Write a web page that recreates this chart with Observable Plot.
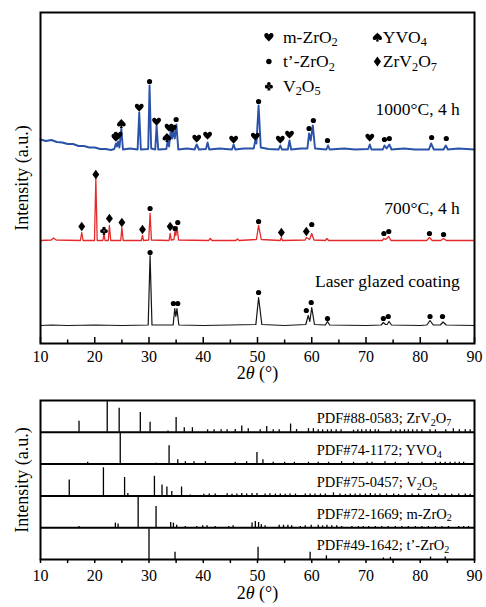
<!DOCTYPE html>
<html><head><meta charset="utf-8">
<script src="https://cdn.jsdelivr.net/npm/d3@7"></script>
<script src="https://cdn.jsdelivr.net/npm/@observablehq/plot@0.6"></script>
<style>
body{margin:0;background:#fff;}
#chart{width:486px;height:607px;overflow:hidden;}
#chart svg{display:block;}
</style></head><body><div id="chart"></div>
<script>
// ---------- DATA: top panel (2θ in degrees, intensity in a.u.) ----------
const glazedTrace = [[10,18],[12,18.5],[15,18],[20,18.5],[25,18],[29.85,18.5],[30.2,88],[30.55,18.5],[34.45,18.5],[34.75,35],[34.95,27],[35.15,35],[35.5,18.5],[40,18],[45,18.5],[49.7,19],[50.2,46],[50.8,19],[55,18],[58.9,19],[59.35,28],[59.65,22],[60.0,36],[60.5,19],[62.5,18.5],[62.9,22],[63.3,18.5],[70,18],[72.8,18.5],[73.2,21],[73.6,19],[73.9,19],[74.25,22],[74.7,18.5],[80,18],[81.2,18.5],[81.8,23],[82.4,18.5],[83.7,18.5],[84.2,21.5],[84.8,18.5],[90,18]];
const t700Trace = [[10,103],[12.0,103.5],[12.4,105.5],[12.9,103.5],[17.35,103],[17.6,111],[17.85,103],[19.95,103],[20.2,165],[20.45,103],[21.5,103],[21.7,110],[21.9,103],[22.5,103],[22.7,118],[22.95,103],[24.8,103],[25.0,116],[25.25,103],[28.6,103],[28.8,108],[29.0,103],[29.95,103.5],[30.2,130],[30.45,103.5],[33.7,103],[33.9,110],[34.1,103.5],[34.6,104],[34.8,113],[34.95,108],[35.15,117],[35.45,103.5],[41.0,103],[41.3,105],[41.6,103],[46.0,103],[46.3,104.5],[46.6,103],[49.8,104],[50.2,118],[50.7,104],[54.2,103],[54.4,106],[54.6,103],[58.8,103.5],[59.0,106],[59.3,105],[59.6,104],[60.0,110],[60.4,103.5],[62.5,103],[62.8,105],[63.1,103],[73.0,103],[73.3,105],[73.6,104],[74.2,107],[74.6,103],[81.2,103],[81.7,106],[82.2,103],[83.8,103],[84.3,105],[84.8,103],[90,103]];
const t1000Trace = [[10,204],[11,202.5],[12,203.5],[13,201.5],[14,201],[15,199.5],[16,199.5],[17,197.5],[18,197.5],[19,196],[20,196],[21,194.5],[22,194.5],[23,193.5],[23.6,194.5],[23.9,200],[24.1,197],[24.3,202],[24.55,196],[24.9,215],[25.2,194],[26.5,195],[27.9,194],[28.2,231],[28.5,194],[29.85,194.5],[30.1,258],[30.4,195],[31.15,194],[31.4,218],[31.7,194],[33.2,194.5],[33.45,203],[33.7,197],[34.0,213],[34.25,205],[34.5,212],[34.75,205],[35.05,219],[35.4,194],[37,195],[38.4,194],[38.8,199],[39.2,194],[40.5,194.5],[40.8,201],[41.1,194],[43,195],[45.3,194],[45.6,199],[45.9,194],[47.5,195],[49.3,195],[49.6,203],[49.8,200],[50.2,238],[50.6,196],[52,194.5],[53.9,194],[54.2,198],[54.5,194],[55.6,194],[55.9,203],[56.2,194],[58,195],[59.2,195],[59.5,210],[59.8,203],[60.2,218],[60.6,195],[62.7,194],[63.0,198],[63.3,194],[66,195],[68,194],[70.4,194.5],[70.7,199],[71.0,194],[73.1,194],[73.4,198],[73.8,195],[74.3,199],[74.7,194],[77,195],[79,194],[81.6,194],[82.0,200],[82.5,194],[84.3,194],[84.7,198],[85.1,194],[87,195],[90,194]];

// phase markers: [2θ, height, phase]  m=m-ZrO2, t=t'-ZrO2, c=V2O5, y=YVO4, d=ZrV2O7
const glazedMarks = [[30.2,91,"t"],[34.5,40,"t"],[35.3,40,"t"],[50.2,51,"t"],[59.0,33,"t"],[59.9,41,"t"],[62.9,25,"t"],[73.2,25,"t"],[74.1,27,"t"],[81.8,27,"t"],[84.1,27,"t"]];
const t700Marks = [[17.6,117,"d"],[20.2,169,"d"],[21.7,113,"c"],[22.7,125,"d"],[25.0,121,"d"],[28.8,114,"d"],[30.2,135,"t"],[33.9,117,"d"],[34.8,115,"t"],[35.3,121,"t"],[50.2,122,"t"],[54.4,111,"d"],[59.0,112,"d"],[60.0,119,"t"],[73.3,110,"t"],[74.2,112,"t"],[81.7,110,"t"],[84.3,109,"t"]];
const t1000Marks = [[23.9,206,"m"],[24.3,208,"m"],[24.9,220,"y"],[28.2,236,"m"],[30.1,262,"t"],[31.4,222,"m"],[33.3,206,"y"],[33.7,216,"m"],[34.3,215,"m"],[35.0,224,"t"],[38.8,205,"m"],[40.8,208,"m"],[45.6,204,"m"],[49.6,207,"m"],[50.2,242,"t"],[54.2,204,"m"],[55.9,209,"m"],[59.5,215,"t"],[60.3,223,"t"],[62.9,203,"t"],[70.7,206,"m"],[73.4,204,"t"],[74.3,205,"t"],[82.1,206,"t"],[84.8,205,"t"]];

const sampleLabels = ["1000°C, 4 h","700°C, 4 h","Laser glazed coating"];
const legendPhases = ["m","t","c","y","d"];
const legendLabels = ["m-ZrO_2","t’-ZrO_2","V_2O_5","YVO_4","ZrV_2O_7"];
const xTicks = [10,20,30,40,50,60,70,80,90];
const xMinor = [15,25,35,45,55,65,75,85];

// ---------- DATA: bottom panel (reference patterns, relative intensity) ----------
const patternKeys = ["ZrV2O7","YVO4","V2O5","m-ZrO2","t-ZrO2"];
const patternLabels = ["PDF#88-0583; ZrV_2O_7","PDF#74-1172; YVO_4","PDF#75-0457; V_2O_5","PDF#72-1669; m-ZrO_2","PDF#49-1642; t’-ZrO_2"];
const zrv2o7Pos = [17.1,22.3,24.5,28.4,30.2,33.5,35.0,36.5,38.0,40.8,42.0,43.3,44.4,45.9,47.1,48.3,50.5,51.7,52.9,54.0,56.1,57.2,59.4,60.3,61.2,62.0,62.9,63.6,64.5,65.4,67.7,68.5,69.2,70.0,70.8,71.7,72.3,74.6,75.5,76.3,77.1,77.8,78.6,79.4,80.3,81.8,82.8,84.7,86.1,87.2,88.3,89.2];
const zrv2o7Int = [36,100,79,65,33,4,48,15,15,8,8,8,8,9,21,12,8,19,8,8,27,9,12,12,8,8,8,8,8,8,7,8,8,8,8,8,8,8,7,8,8,8,8,8,8,8,8,8,12,8,8,8];
const yvo4Pos = [18.7,24.7,31.3,33.7,35.3,36.7,38.3,40.4,45.9,48.0,49.9,51.0,52.9,55.0,56.8,59.4,61.2,63.1,65.5,67.7,70.2,71.1,73.5,75.4,77.8,80.3,82.8,83.7,84.6,85.5,86.4,87.2,88.0];
const yvo4Int = [6,100,3,60,14,8,8,8,6,8,38,14,6,6,6,6,6,6,8,6,6,6,8,6,6,6,6,6,6,6,6,6,6];
const v2o5Pos = [15.3,21.6,25.5,26.1,31.0,32.4,33.3,34.2,36.0,37.6,40.1,41.1,42.2,44.4,45.3,46.2,47.1,48.0,49.0,49.9,51.4,52.3,53.3,54.2,55.1,56.0,57.0,58.8,59.7,60.6,61.6,62.5,64.0,65.2,66.2,67.1,68.0,68.9,69.9,70.8,71.7,72.6,73.8,75.1,76.0,77.2,78.5,79.7,80.9,82.1,83.4,84.6,85.8,87.1,88.3,89.2];
const v2o5Int = [52,92,60,8,64,36,29,14,29,3,5,6,6,7,5,6,8,6,8,8,6,7,6,6,5,6,6,6,6,6,6,6,10,6,5,6,6,6,6,8,6,6,6,6,5,6,6,6,6,5,6,6,5,6,6,5];
const mzro2Pos = [17.1,23.8,24.3,28.0,31.3,34.0,34.5,35.1,36.7,38.8,39.9,40.7,42.2,44.7,45.5,49.0,49.6,50.2,50.7,51.4,54.0,54.8,55.6,56.3,57.9,58.8,59.9,61.2,62.0,62.8,63.7,64.6,65.5,67.4,68.6,69.5,70.5,71.7,72.9,74.1,75.4,76.6,77.8,79.1,80.3,81.5,82.8,84.0,85.2,87.1,88.0,88.9];
const mzro2Int = [4,15,12,100,69,17,15,8,4,4,6,6,4,4,6,15,20,17,10,6,8,8,8,6,4,6,8,8,6,8,6,6,4,4,4,4,4,4,4,4,4,4,4,4,4,4,4,4,4,4,4,4];
const tzro2Pos = [30.0,34.8,50.1,59.7,62.7,73.2,74.5,81.9,84.6];
const tzro2Int = [100,24,40,24,12,5,7,8,8];

// ---------- marker symbols (card suits) ----------
const S = size => Math.sqrt(size / Math.PI);
const heart = {draw(c, size) { const s = S(size);
  c.moveTo(0, 0.95*s);
  c.bezierCurveTo(-0.25*s, 0.6*s, -1.0*s, 0.15*s, -1.0*s, -0.35*s);
  c.bezierCurveTo(-1.0*s, -0.95*s, -0.25*s, -1.05*s, 0, -0.5*s);
  c.bezierCurveTo(0.25*s, -1.05*s, 1.0*s, -0.95*s, 1.0*s, -0.35*s);
  c.bezierCurveTo(1.0*s, 0.15*s, 0.25*s, 0.6*s, 0, 0.95*s);
  c.closePath(); }};
const spade = {draw(c, size) { const s = S(size);
  c.moveTo(0, -1.0*s);
  c.bezierCurveTo(-0.25*s, -0.6*s, -1.0*s, -0.2*s, -1.0*s, 0.25*s);
  c.bezierCurveTo(-1.0*s, 0.75*s, -0.35*s, 0.8*s, -0.1*s, 0.45*s);
  c.lineTo(-0.35*s, 1.0*s); c.lineTo(0.35*s, 1.0*s); c.lineTo(0.1*s, 0.45*s);
  c.bezierCurveTo(0.35*s, 0.8*s, 1.0*s, 0.75*s, 1.0*s, 0.25*s);
  c.bezierCurveTo(1.0*s, -0.2*s, 0.25*s, -0.6*s, 0, -1.0*s);
  c.closePath(); }};
const club = {draw(c, size) { const s = S(size), r = 0.42*s;
  [[0, -0.5*s], [-0.5*s, 0.15*s], [0.5*s, 0.15*s]].forEach(([x, y]) => { c.moveTo(x + r, y); c.arc(x, y, r, 0, 2*Math.PI); });
  c.moveTo(-0.1*s, 0); c.lineTo(-0.35*s, 1.0*s); c.lineTo(0.35*s, 1.0*s); c.lineTo(0.1*s, 0); c.closePath(); }};
const diamond = {draw(c, size) { const s = S(size);
  c.moveTo(0, -1.05*s); c.lineTo(0.75*s, 0); c.lineTo(0, 1.05*s); c.lineTo(-0.75*s, 0); c.closePath(); }};
const symbolOf = {m: heart, y: spade, c: club, d: diamond};
const radiusOf = {m: 4.4, y: 4.4, c: 4.2, d: 4.6, t: 2.6};

// ---------- build tables ----------
const serif = "'Liberation Serif','Times New Roman',serif";
const toRows = (arr, s) => arr.map(([x,y]) => ({x, y, s}));
const markRows = [...glazedMarks, ...t700Marks, ...t1000Marks].map(([x,y,k]) => ({x,y,k}));
const legendRows = legendPhases.map((k,i) => ({k, label: legendLabels[i], col: i < 3 ? 0 : 1, row: i < 3 ? i : i - 3}));
const legX = [52.1, 72.1], legTX = [54.7, 73.1], legY = [306.5, 282, 257.5];
const annot = sampleLabels.map((label,i) => ({label, y: [234, 135, 62][i]}));
const markerMarks = (rows, opts) => ["t","m","y","c","d"].map(k =>
  Plot.dot(rows.filter(d => d.k === k), {...opts, r: radiusOf[k] * (opts.scale || 1), symbol: k === "t" ? "circle" : symbolOf[k], fill: "black", stroke: "none"}));

// stacked strips: each strip spans STRIP units of the shared y scale
const STRIP = 104;
const stripOffset = key => (patternKeys.length - 1 - patternKeys.indexOf(key)) * STRIP;
const sticksFrom = (key, P, I) => P.map((x,i) => ({key, x, h: I[i]}));
const sticks = [
  ...sticksFrom("ZrV2O7", zrv2o7Pos, zrv2o7Int),
  ...sticksFrom("YVO4", yvo4Pos, yvo4Int),
  ...sticksFrom("V2O5", v2o5Pos, v2o5Int),
  ...sticksFrom("m-ZrO2", mzro2Pos, mzro2Int),
  ...sticksFrom("t-ZrO2", tzro2Pos, tzro2Int)
];
const stripRows = patternKeys.map((key,i) => ({key, label: patternLabels[i]}));
const dividers = patternKeys.slice(1).map(k => stripOffset(k) + STRIP);

// ---------- top panel ----------
const topPlot = Plot.plot({
  width: 486, height: 385, marginTop: 12, marginBottom: 42, marginLeft: 40, marginRight: 12,
  style: {fontFamily: serif, fontSize: "16px", color: "black", background: "white"},
  x: {domain: [10, 90], label: null},
  y: {domain: [0, 331], axis: null},
  marks: [
    Plot.axisX(xTicks, {tickSize: 0, tickPadding: 7, fontSize: 16, fontFamily: serif, label: null}),
    Plot.ruleX(xTicks, {y1: 0, y2: 6, stroke: "black", strokeWidth: 1.5}),
    Plot.ruleX(xMinor, {y1: 0, y2: 3.5, stroke: "black", strokeWidth: 1.5}),
    Plot.line(toRows(glazedTrace, "g"), {x: "x", y: "y", stroke: "#151515", strokeWidth: 1.2}),
    Plot.line(toRows(t700Trace, "r"), {x: "x", y: "y", stroke: "#e42a2a", strokeWidth: 1.3}),
    Plot.line(toRows(t1000Trace, "b"), {x: "x", y: "y", stroke: "#2a52a8", strokeWidth: 1.9}),
    ...markerMarks(markRows, {x: "x", y: "y"}),
    // legend
    ...markerMarks(legendRows, {x: d => legX[d.col], y: d => legY[d.row], scale: 1.05}),
    Plot.text(legendRows, {x: d => legTX[d.col], y: d => legY[d.row], text: "label", textAnchor: "start", fontFamily: serif, fontSize: 17.5, fill: "black"}),
    // sample annotations
    Plot.text(annot, {x: 87.3, y: "y", text: "label", textAnchor: "end", fontFamily: serif, fontSize: 17.5, fill: "black"}),
    // axis titles
    Plot.text(["Intensity (a.u.)"], {text: d => d, frameAnchor: "left", textAnchor: "middle", rotate: -90, dx: -18, fontFamily: serif, fontSize: 18, fill: "black"}),
    Plot.text(["2*θ* (°)"], {text: d => d, frameAnchor: "bottom", dy: 35, fontFamily: serif, fontSize: 18, fill: "black"}),
    Plot.frame({stroke: "black", strokeWidth: 2})
  ]
});

// ---------- bottom panel ----------
const bottomPlot = Plot.plot({
  width: 486, height: 222, marginTop: 15, marginBottom: 48, marginLeft: 40, marginRight: 12,
  style: {fontFamily: serif, fontSize: "16px", color: "black", background: "white"},
  x: {domain: [10, 90], label: null},
  y: {domain: [0, STRIP * patternKeys.length], axis: null},
  marks: [
    Plot.ruleX(sticks, {x: "x", y1: d => stripOffset(d.key), y2: d => stripOffset(d.key) + d.h, stroke: "black", strokeWidth: 1.3}),
    Plot.ruleY(dividers, {stroke: "black", strokeWidth: 2}),
    Plot.text(stripRows, {x: 60.9, y: d => stripOffset(d.key) + 45, text: "label", textAnchor: "start", fontFamily: serif, fontSize: 14.5, fill: "black"}),
    Plot.text(["Intensity (a.u.)"], {text: d => d, frameAnchor: "left", textAnchor: "middle", rotate: -90, dx: -18, fontFamily: serif, fontSize: 18, fill: "black"}),
    Plot.text(["2*θ* (°)"], {text: d => d, frameAnchor: "bottom", dy: 39, fontFamily: serif, fontSize: 18, fill: "black"}),
    Plot.frame({stroke: "black", strokeWidth: 2}),
    Plot.axisX(d3.range(10, 91, 5), {tickSize: 4, tickPadding: 6, strokeWidth: 1.5, tickFormat: d => d % 10 === 0 ? String(d) : "", fontSize: 16, fontFamily: serif, label: null})
  ]
});

const chart = document.getElementById("chart");
chart.appendChild(topPlot);
chart.appendChild(bottomPlot);

// rich text: _d -> subscript, *x* -> italic
function richText(svg) {
  const NS = "http://www.w3.org/2000/svg";
  svg.querySelectorAll("text").forEach(t => {
    if (t.querySelector("tspan")) return;
    const s = t.textContent;
    if (!/_\d|\*[^*]+\*/.test(s)) return;
    const fs = parseFloat(getComputedStyle(t).fontSize) || 16;
    const shift = +(fs * 0.2).toFixed(2);
    t.textContent = "";
    let down = false, last = 0, m;
    const re = /_(\d)|\*([^*]+)\*/g;
    const add = (txt, attrs) => {
      const ts = document.createElementNS(NS, "tspan");
      for (const k in attrs) ts.setAttribute(k, attrs[k]);
      ts.textContent = txt;
      t.appendChild(ts);
    };
    while ((m = re.exec(s))) {
      if (m.index > last) { add(s.slice(last, m.index), down ? {dy: -shift} : {}); down = false; }
      if (m[1] !== undefined) {
        add(m[1], down ? {"font-size": (fs * 0.7).toFixed(1)} : {dy: shift, "font-size": (fs * 0.7).toFixed(1)});
        down = true;
      } else {
        add(m[2], down ? {dy: -shift, "font-style": "italic"} : {"font-style": "italic"});
        down = false;
      }
      last = re.lastIndex;
    }
    if (last < s.length) add(s.slice(last), down ? {dy: -shift} : {});
  });
}
richText(topPlot);
richText(bottomPlot);
</script></body></html>
